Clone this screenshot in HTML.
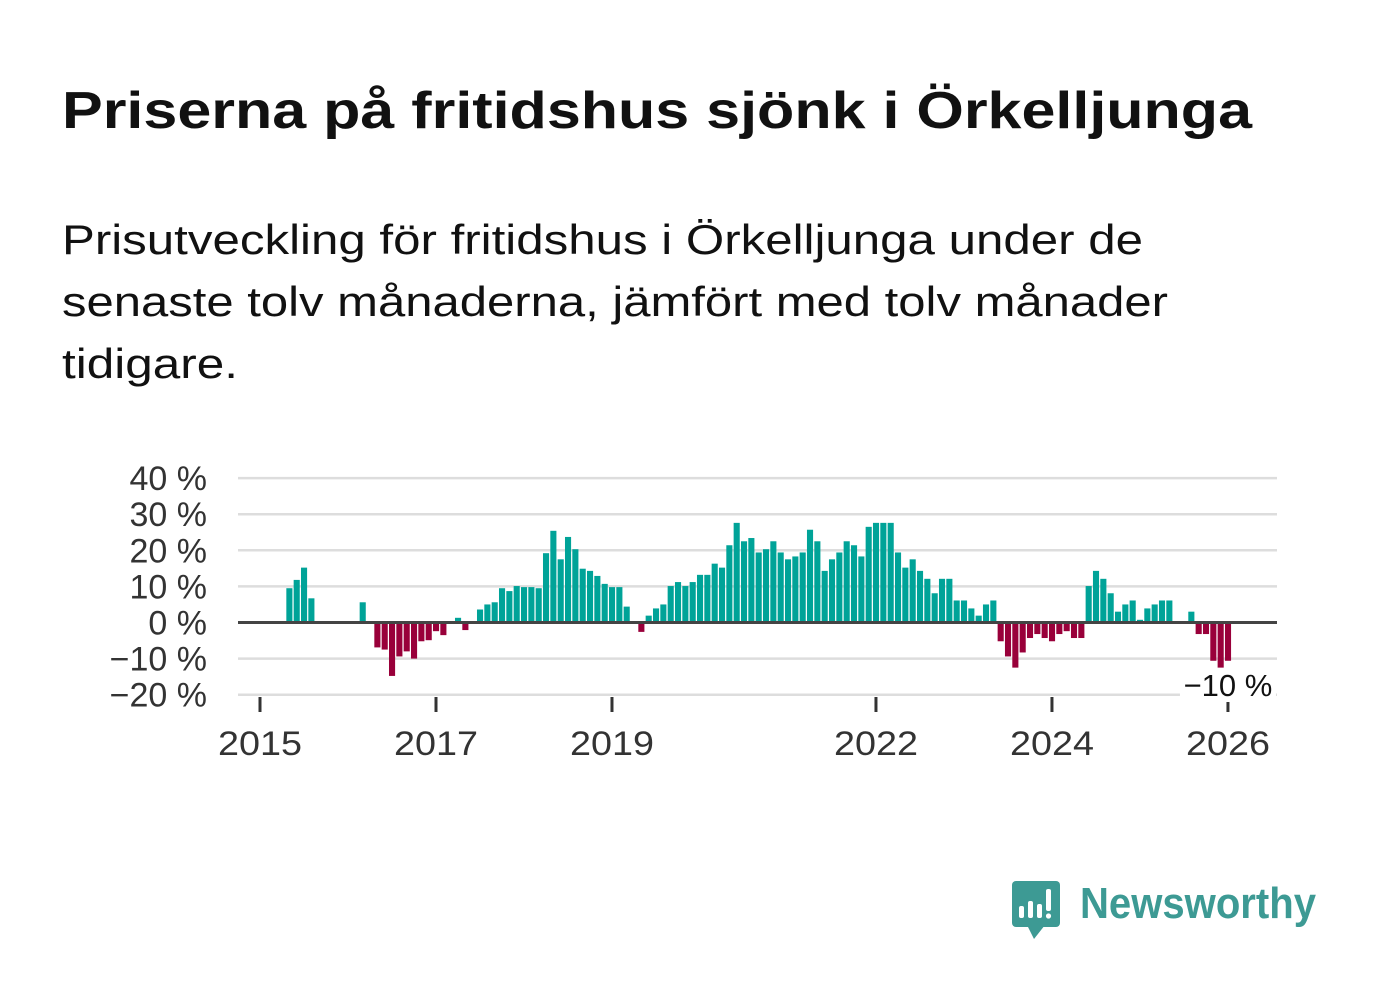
<!DOCTYPE html>
<html><head><meta charset="utf-8"><style>
html,body{margin:0;padding:0;background:#fff;}
svg{display:block;font-family:"Liberation Sans",sans-serif;}
</style></head><body>
<svg id="chart" width="1382" height="999" viewBox="0 0 1382 999" xmlns="http://www.w3.org/2000/svg">
<rect width="1382" height="999" fill="#fff"/>
<text x="62" y="128" font-size="52" font-weight="bold" fill="#111" textLength="1190" lengthAdjust="spacingAndGlyphs">Priserna på fritidshus sjönk i Örkelljunga</text>
<g font-size="42" fill="#111">
<text x="62" y="254" textLength="1081" lengthAdjust="spacingAndGlyphs">Prisutveckling för fritidshus i Örkelljunga under de</text>
<text x="62" y="316" textLength="1106" lengthAdjust="spacingAndGlyphs">senaste tolv månaderna, jämfört med tolv månader</text>
<text x="62" y="378" textLength="176" lengthAdjust="spacingAndGlyphs">tidigare.</text>
</g>
<g id="grid"></g>
<g id="bars"></g>
<g id="axes"></g>
<g>
<rect x="1012" y="881" width="48" height="46" rx="4" fill="#3d9a94"/>
<polygon points="1027,925 1045,925 1034,939" fill="#3d9a94"/>
<rect x="1019" y="906" width="5" height="12" rx="2" fill="#fff"/>
<rect x="1028" y="901" width="5" height="17" rx="2" fill="#fff"/>
<rect x="1037" y="904" width="5" height="14" rx="2" fill="#fff"/>
<rect x="1046" y="889" width="5" height="22" rx="2" fill="#fff"/>
<circle cx="1048.5" cy="916" r="2.6" fill="#fff"/>
<text x="1080" y="918" font-size="44" font-weight="bold" fill="#3d9a94" textLength="236" lengthAdjust="spacingAndGlyphs">Newsworthy</text>
</g>
</svg>
<script>
const values = [null,null,null,null,9.5,11.8,15.2,6.7,null,null,null,null,null,null,5.6,null,-6.9,-7.5,-14.8,-9.4,-8.0,-10.0,-5.2,-4.9,-2.4,-3.5,null,1.3,-2.1,null,3.6,5.0,5.6,9.5,8.7,10.1,9.8,9.8,9.5,19.2,25.4,17.5,23.7,20.3,14.9,14.3,12.9,10.7,9.8,9.8,4.4,null,-2.6,1.9,3.9,5.0,10.1,11.2,10.1,11.2,13.2,13.2,16.3,15.2,21.4,27.6,22.5,23.4,19.4,20.3,22.5,19.4,17.5,18.3,19.4,25.7,22.5,14.3,17.5,19.4,22.5,21.4,18.3,26.5,27.6,27.6,27.6,19.4,15.2,17.5,14.3,12.1,8.1,12.1,12.1,6.1,6.1,3.9,1.9,5.0,6.1,-5.2,-9.4,-12.5,-8.3,-4.3,-3.2,-4.3,-5.2,-3.2,-2.4,-4.3,-4.3,10.1,14.3,12.1,8.1,3.0,5.0,6.1,0.75,3.9,5.0,6.1,6.1,null,null,3.0,-3.2,-3.2,-10.6,-12.5,-10.6];
const yTicks = [40,30,20,10,0,-10,-20];
const yTickLabels = ["40 %","30 %","20 %","10 %","0 %","−10 %","−20 %"];
const xTickYears = [2015,2017,2019,2022,2024,2026];
const lastLabel = "−10 %";

const NS="http://www.w3.org/2000/svg";
const x0=260, monthW=7.333, zeroY=622.5, per10=36.1, left=238, right=1277;
const xScale = m => x0 + m*monthW;
const yScale = v => zeroY - v*per10/10;
function mk(tag, parent, attrs){const e=document.createElementNS(NS,tag);for(const k in attrs)e.setAttribute(k,attrs[k]);parent.appendChild(e);return e;}
const grid=document.getElementById('grid'), bars=document.getElementById('bars'), axes=document.getElementById('axes');
yTicks.forEach((t,i)=>{
  if(t!==0){const l=mk('line',grid,{x1:left,x2:right,y1:yScale(t),y2:yScale(t),stroke:'#dddddd','stroke-width':2.5});
  
  }
  const tx=mk('text',axes,{x:207,y:yScale(t)+12,'text-anchor':'end','font-size':34,fill:'#333'});
  tx.textContent=yTickLabels[i];
  
  
});
values.forEach((v,m)=>{
  if(v===null)return;
  const y=v>=0?yScale(v):zeroY, h=Math.abs(yScale(v)-zeroY);
  const r=mk('rect',bars,{x:xScale(m)-3,y:y,width:6.1,height:h,fill:v>=0?'#00a398':'#99003a'});
  
  
});
const zl=mk('line',axes,{x1:left,x2:right,y1:zeroY,y2:zeroY,stroke:'#444','stroke-width':3});


xTickYears.forEach(yr=>{
  const x=xScale((yr-2015)*12);
  const tk=mk('line',axes,{x1:x,x2:x,y1:697,y2:712,stroke:'#333','stroke-width':3});
  
  
  const tx=mk('text',axes,{x:x-42,y:755,'font-size':34,fill:'#333',textLength:84,lengthAdjust:'spacingAndGlyphs'});
  tx.textContent=yr;
  
  
});
const last=values.length-1;
const bg=mk('rect',axes,{x:xScale(last)-48,y:668,width:96,height:34,fill:'#fff'});


const lv=mk('text',axes,{x:xScale(last),y:696,'text-anchor':'middle','font-size':31,fill:'#111'});
lv.textContent=lastLabel;


</script>
</body></html>
